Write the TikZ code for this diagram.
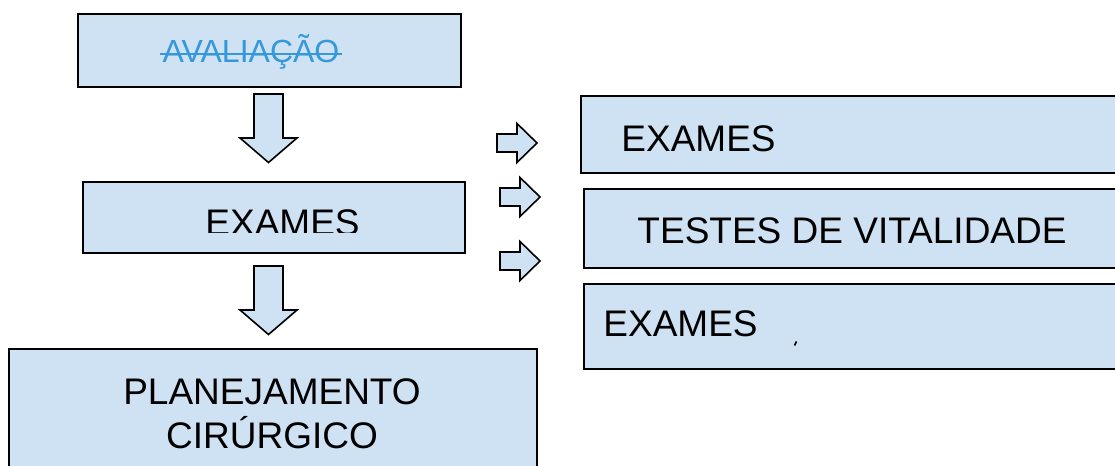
\documentclass[tikz,border=0pt]{standalone}
\usepackage{fontspec}
\setmainfont{Liberation Sans}
\usetikzlibrary{calc}
\definecolor{boxfill}{RGB}{207,226,243}
\definecolor{strikeblue}{RGB}{52,152,219}
\tikzset{
  box/.style={draw=black, line width=1.5pt, fill=boxfill, inner sep=0pt, anchor=north west},
  lbl/.style={inner sep=0pt, anchor=base, font=\fontsize{27.75}{30}\selectfont},
  blockarrow/.style={draw=black, line width=1.2pt, fill=boxfill, line join=miter},
  pics/downarr/.style={code={
    \draw[blockarrow] (-14.5,0) -- (14.5,0) -- (14.5,44) -- (28.5,44) -- (0,68.5)
      -- (-28.5,44) -- (-14.5,44) -- cycle;}},
  pics/rightarr/.style={code={
    \draw[blockarrow] (0,-9) -- (20,-9) -- (20,-19.5) -- (40,0) -- (20,19.5)
      -- (20,9) -- (0,9) -- cycle;}},
}
\begin{document}
\begin{tikzpicture}[x=0.75pt,y=-0.75pt]
\useasboundingbox (0,0) rectangle (1115,466);
\clip (0,0) rectangle (1115,466);
% boxes
\node[box, minimum width=383*0.75pt, minimum height=73*0.75pt] (av) at (77,13) {};
\node[box, minimum width=382*0.75pt, minimum height=71*0.75pt] (ex) at (82,181) {};
\node[box, minimum width=528*0.75pt, minimum height=135*0.75pt] (plan) at (8,348) {};
\node[box, minimum width=550*0.75pt, minimum height=77*0.75pt] (ra) at (580,95) {};
\node[box, minimum width=547*0.75pt, minimum height=79*0.75pt] (rb) at (583,188) {};
\node[box, minimum width=547*0.75pt, minimum height=85*0.75pt] (rc) at (583,283) {};
% texts
\node[lbl, font=\fontsize{24}{28}\selectfont, text=strikeblue] (avt) at (251,63) {AVALIAÇÃO};
\draw[strikeblue, line width=1.1pt] ($(avt.base west)+(-2,-9)$) -- ($(avt.base east)+(2,-9)$);
\begin{scope}
  \clip (83,182) rectangle (463,233);
  \node[lbl] (ext) at (282.5,235.5) {EXAMES};
\end{scope}
\node[lbl] (rat) at (698.5,152) {EXAMES};
\node[lbl] (rbt) at (852,244) {TESTES DE VITALIDADE};
\node[lbl] (rct) at (680.5,337) {EXAMES};
\draw[line width=1.2pt] (794.5,345.5) -- (796.5,341.5);
\node[lbl] (plt1) at (272,405) {PLANEJAMENTO};
\node[lbl] (plt2) at (272,449) {CIRÚRGICO};
% block arrows
\pic at (268.5,94) {downarr};
\pic at (268.5,266) {downarr};
\pic at (497,143) {rightarr};
\pic at (500,197) {rightarr};
\pic at (500,261) {rightarr};
\end{tikzpicture}
\end{document}
